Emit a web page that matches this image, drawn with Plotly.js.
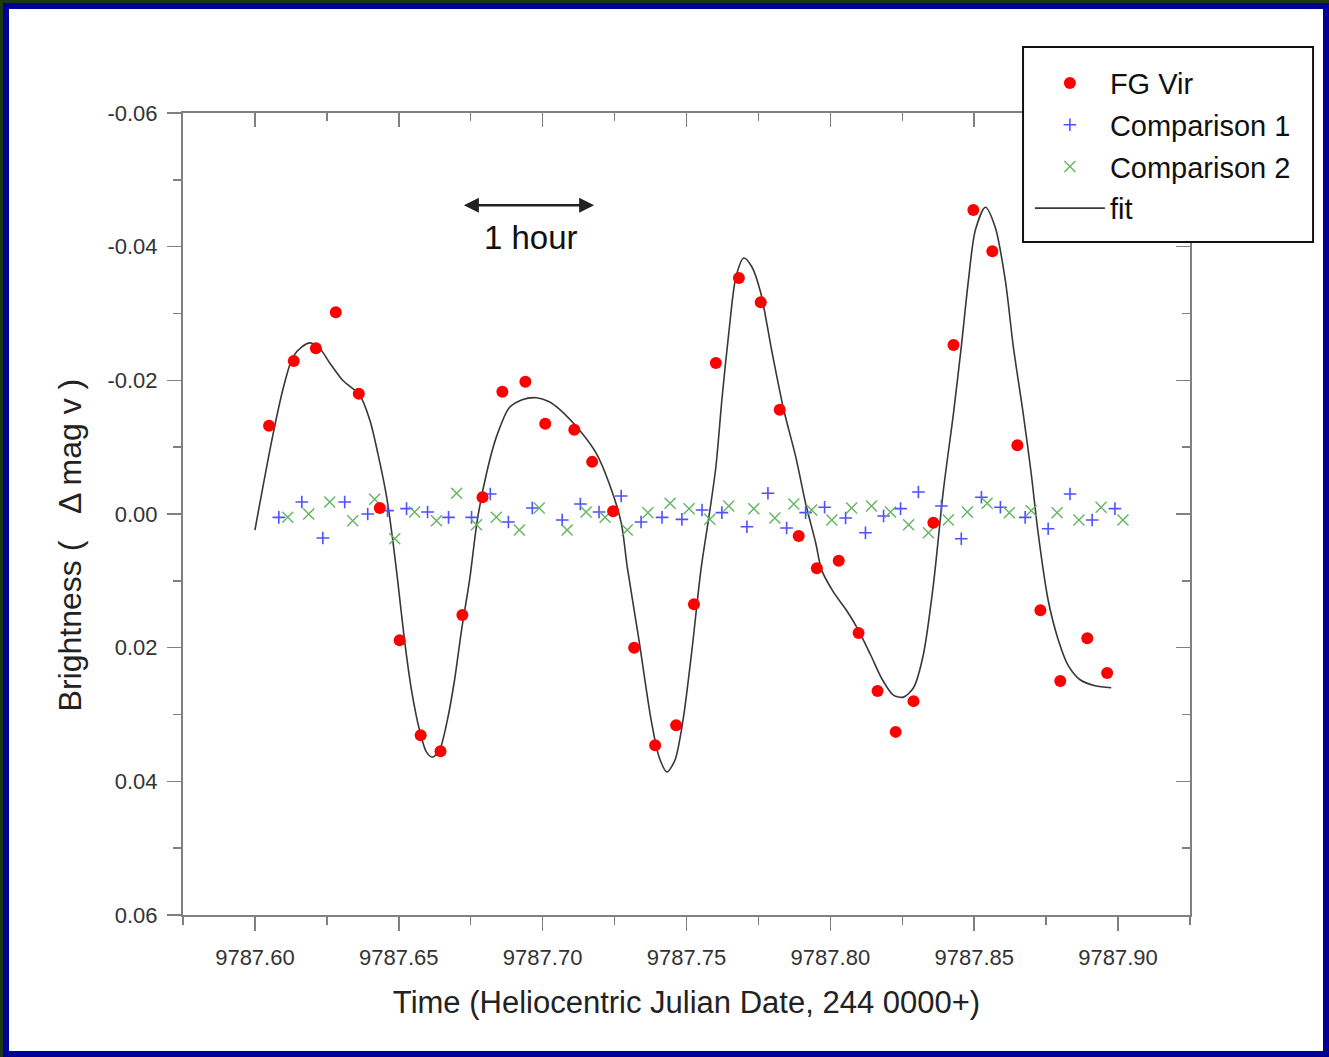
<!DOCTYPE html>
<html><head><meta charset="utf-8">
<script src="https://cdn.plot.ly/plotly-3.0.1.min.js"></script>
<style>
html,body{margin:0;padding:0;background:#1c3a12;width:1329px;height:1057px;overflow:hidden;}
#frame{position:absolute;left:3px;top:3px;width:1326px;height:1054px;box-sizing:border-box;border:6px solid #000099;background:#fff;}
#chart{position:absolute;left:0;top:0;width:1329px;height:1057px;}
</style></head><body><div id="frame"></div><div id="chart"></div>
<script>
// FG Vir observed brightness (delta mag v)
const fgVirTime = [9787.6049, 9787.6135, 9787.6212, 9787.6281, 9787.6361, 9787.6434, 9787.6503, 9787.6576, 9787.6645, 9787.6721, 9787.6791, 9787.6860, 9787.6940, 9787.7009, 9787.7110, 9787.7172, 9787.7245, 9787.7318, 9787.7391, 9787.7464, 9787.7526, 9787.7602, 9787.7682, 9787.7758, 9787.7824, 9787.7890, 9787.7953, 9787.8029, 9787.8098, 9787.8164, 9787.8227, 9787.8289, 9787.8358, 9787.8428, 9787.8497, 9787.8563, 9787.8650, 9787.8730, 9787.8799, 9787.8893, 9787.8962];
const fgVirMag = [-0.0132, -0.0229, -0.0248, -0.0302, -0.0180, -0.0009, 0.0189, 0.0331, 0.0355, 0.0151, -0.0025, -0.0183, -0.0198, -0.0135, -0.0126, -0.0078, -0.0004, 0.0200, 0.0346, 0.0316, 0.0135, -0.0226, -0.0353, -0.0317, -0.0156, 0.0033, 0.0081, 0.0070, 0.0178, 0.0265, 0.0326, 0.0280, 0.0013, -0.0253, -0.0455, -0.0393, -0.0103, 0.0144, 0.0250, 0.0186, 0.0238];

// Comparison 1
const comp1Time = [9787.6083, 9787.6163, 9787.6236, 9787.6312, 9787.6392, 9787.6461, 9787.6527, 9787.6600, 9787.6673, 9787.6753, 9787.6818, 9787.6881, 9787.6964, 9787.7068, 9787.7131, 9787.7196, 9787.7273, 9787.7342, 9787.7415, 9787.7484, 9787.7554, 9787.7623, 9787.7710, 9787.7783, 9787.7848, 9787.7914, 9787.7980, 9787.8053, 9787.8122, 9787.8185, 9787.8244, 9787.8306, 9787.8386, 9787.8455, 9787.8525, 9787.8591, 9787.8677, 9787.8757, 9787.8833, 9787.8910, 9787.8989];
const comp1Mag = [0.0005, -0.0018, 0.0036, -0.0018, 0.0000, -0.0005, -0.0008, -0.0003, 0.0005, 0.0005, -0.0030, 0.0012, -0.0009, 0.0009, -0.0015, -0.0003, -0.0027, 0.0012, 0.0005, 0.0008, -0.0006, -0.0002, 0.0019, -0.0031, 0.0021, -0.0002, -0.0010, 0.0006, 0.0028, 0.0003, -0.0008, -0.0033, -0.0012, 0.0037, -0.0025, -0.0010, 0.0005, 0.0022, -0.0030, 0.0009, -0.0008];

// Comparison 2
const comp2Time = [9787.6114, 9787.6187, 9787.6260, 9787.6340, 9787.6416, 9787.6486, 9787.6555, 9787.6631, 9787.6701, 9787.6770, 9787.6839, 9787.6919, 9787.6988, 9787.7085, 9787.7151, 9787.7217, 9787.7294, 9787.7366, 9787.7443, 9787.7509, 9787.7581, 9787.7647, 9787.7734, 9787.7807, 9787.7873, 9787.7935, 9787.8005, 9787.8074, 9787.8143, 9787.8209, 9787.8272, 9787.8341, 9787.8410, 9787.8476, 9787.8545, 9787.8622, 9787.8698, 9787.8788, 9787.8864, 9787.8941, 9787.9017];
const comp2Mag = [0.0005, 0.0000, -0.0018, 0.0010, -0.0022, 0.0037, -0.0003, 0.0010, -0.0031, 0.0016, 0.0005, 0.0024, -0.0009, 0.0024, -0.0003, 0.0005, 0.0024, -0.0002, -0.0016, -0.0008, 0.0008, -0.0012, -0.0008, 0.0006, -0.0015, -0.0006, 0.0009, -0.0009, -0.0012, -0.0003, 0.0016, 0.0028, 0.0009, -0.0003, -0.0016, -0.0002, -0.0005, -0.0002, 0.0009, -0.0010, 0.0009];

// Fit curve (traced)
const fitTime = [9787.6000, 9787.6059, 9787.6097, 9787.6132, 9787.6163, 9787.6191, 9787.6225, 9787.6260, 9787.6305, 9787.6364, 9787.6399, 9787.6427, 9787.6458, 9787.6479, 9787.6496, 9787.6520, 9787.6544, 9787.6572, 9787.6596, 9787.6617, 9787.6642, 9787.6669, 9787.6694, 9787.6718, 9787.6746, 9787.6773, 9787.6805, 9787.6839, 9787.6884, 9787.6929, 9787.6978, 9787.7023, 9787.7058, 9787.7127, 9787.7186, 9787.7231, 9787.7273, 9787.7294, 9787.7335, 9787.7377, 9787.7405, 9787.7432, 9787.7460, 9787.7488, 9787.7519, 9787.7550, 9787.7578, 9787.7602, 9787.7623, 9787.7647, 9787.7672, 9787.7699, 9787.7727, 9787.7758, 9787.7796, 9787.7838, 9787.7880, 9787.7914, 9787.7949, 9787.7970, 9787.8011, 9787.8056, 9787.8098, 9787.8140, 9787.8181, 9787.8219, 9787.8254, 9787.8289, 9787.8323, 9787.8358, 9787.8393, 9787.8428, 9787.8455, 9787.8480, 9787.8504, 9787.8539, 9787.8573, 9787.8608, 9787.8636, 9787.8670, 9787.8698, 9787.8722, 9787.8757, 9787.8792, 9787.8826, 9787.8868, 9787.8920, 9787.8976];
const fitMag = [0.0024, -0.0111, -0.0186, -0.0235, -0.0250, -0.0256, -0.0248, -0.0226, -0.0200, -0.0178, -0.0141, -0.0091, -0.0025, 0.0039, 0.0099, 0.0189, 0.0263, 0.0323, 0.0356, 0.0364, 0.0353, 0.0308, 0.0248, 0.0174, 0.0099, 0.0009, -0.0061, -0.0115, -0.0159, -0.0171, -0.0174, -0.0168, -0.0157, -0.0126, -0.0091, -0.0046, 0.0013, 0.0079, 0.0189, 0.0308, 0.0364, 0.0386, 0.0368, 0.0308, 0.0203, 0.0084, 0.0004, -0.0070, -0.0171, -0.0271, -0.0355, -0.0383, -0.0370, -0.0331, -0.0245, -0.0156, -0.0085, -0.0016, 0.0043, 0.0084, 0.0117, 0.0144, 0.0174, 0.0211, 0.0248, 0.0271, 0.0274, 0.0260, 0.0211, 0.0106, -0.0036, -0.0151, -0.0250, -0.0350, -0.0425, -0.0459, -0.0429, -0.0350, -0.0250, -0.0151, -0.0061, 0.0028, 0.0129, 0.0188, 0.0226, 0.0248, 0.0257, 0.0260];

// Tick labels
const xTickVals = [9787.60, 9787.65, 9787.70, 9787.75, 9787.80, 9787.85, 9787.90];
const xTickText = ["9787.60", "9787.65", "9787.70", "9787.75", "9787.80", "9787.85", "9787.90"];
const yTickVals = [-0.06, -0.04, -0.02, 0.00, 0.02, 0.04, 0.06];
const yTickText = ["-0.06", "-0.04", "-0.02", "0.00", "0.02", "0.04", "0.06"];

const seriesNames = ["FG Vir", "Comparison 1", "Comparison 2", "fit"];

const FONT = "Arial, 'Liberation Sans', sans-serif";
const AXC = "#808080";
const xr = [9787.575, 9787.925];
const yr = [0.06, -0.06];

const traces = [
  {x: fitTime, y: fitMag, name: seriesNames[3], mode: "lines", type: "scatter",
   line: {color: "#383838", width: 1.6, shape: "spline", smoothing: 0.8},
   legendrank: 4, legendgroup: "d"},
  {x: comp1Time, y: comp1Mag, name: seriesNames[1], mode: "markers", type: "scatter",
   marker: {symbol: "cross-thin", size: 9, line: {color: "#5050ff", width: 1.6}},
   legendrank: 2, legendgroup: "b"},
  {x: comp2Time, y: comp2Mag, name: seriesNames[2], mode: "markers", type: "scatter",
   marker: {symbol: "x-thin", size: 11, line: {color: "#62b462", width: 1.4}},
   legendrank: 3, legendgroup: "c"},
  {x: fgVirTime, y: fgVirMag, name: seriesNames[0], mode: "markers", type: "scatter",
   marker: {symbol: "circle", size: 12, color: "#ff0000"},
   legendrank: 1, legendgroup: "a"},
  {x: [], y: [], xaxis: "x2", yaxis: "y2", showlegend: false, hoverinfo: "skip", type: "scatter", mode: "markers"}
];

const axBase = {
  showgrid: false, zeroline: false, showline: true, linecolor: AXC, linewidth: 2,
  tickcolor: AXC, tickwidth: 1.5, ticklen: 14,
  tickfont: {family: FONT, size: 22, color: "#333"}
};

const layout = {
  width: 1329, height: 1057,
  margin: {l: 183, r: 139, t: 113, b: 142, pad: 0},
  paper_bgcolor: "rgba(0,0,0,0)", plot_bgcolor: "rgba(0,0,0,0)",
  font: {family: FONT, color: "#222"},
  showlegend: true,
  xaxis: Object.assign({}, axBase, {
    range: xr, tickmode: "array", tickvals: xTickVals, ticktext: xTickText,
    ticks: "outside", ticklabelstandoff: 8,
    minor: {tickmode: "linear", tick0: 9787.60, dtick: 0.025, ticks: "outside", ticklen: 8, tickcolor: AXC, tickwidth: 1.5},
    title: {text: "Time (Heliocentric Julian Date, 244 0000+)", font: {family: FONT, size: 31, color: "#222"}, standoff: 22}
  }),
  yaxis: Object.assign({}, axBase, {
    range: yr, tickmode: "array", tickvals: yTickVals, ticktext: yTickText,
    ticks: "outside", ticklabelstandoff: 5,
    minor: {tickmode: "linear", tick0: 0, dtick: 0.01, ticks: "outside", ticklen: 8, tickcolor: AXC, tickwidth: 1.5},
    title: {text: "Brightness (\u00a0\u00a0\u00a0\u0394 mag v )" + "\u00a0".repeat(7) + "\u200b", font: {family: FONT, size: 32, color: "#222"}, standoff: 16}
  }),
  xaxis2: Object.assign({}, axBase, {
    overlaying: "x", side: "top", anchor: "y2", range: xr, tickmode: "array", tickvals: xTickVals,
    ticks: "inside", showticklabels: false,
    minor: {tickmode: "linear", tick0: 9787.60, dtick: 0.025, ticks: "inside", ticklen: 8, tickcolor: AXC, tickwidth: 1.5}
  }),
  yaxis2: Object.assign({}, axBase, {
    overlaying: "y", side: "right", anchor: "x2", range: yr, tickmode: "array", tickvals: yTickVals,
    ticks: "inside", showticklabels: false,
    minor: {tickmode: "linear", tick0: 0, dtick: 0.01, ticks: "inside", ticklen: 8, tickcolor: AXC, tickwidth: 1.5}
  }),
  legend: {
    x: 0.841, y: 1.069, xanchor: "left", yanchor: "top",
    bgcolor: "rgba(0,0,0,0)", borderwidth: 0,
    font: {family: FONT, size: 29, color: "#111"},
    itemwidth: 70, traceorder: "grouped", tracegroupgap: 1
  },
  shapes: [
    {type: "rect", xref: "paper", yref: "paper", x0: 0.8342, x1: 1.1222, y0: 0.8392, y1: 1.0823,
     line: {color: "#111", width: 2}, fillcolor: "#fff", layer: "above"}
  ],
  annotations: [
    {x: 9787.7179, y: -0.0462, ax: 9787.6721, ay: -0.0462, xref: "x", yref: "y", axref: "x", ayref: "y",
     text: "", showarrow: true, arrowhead: 2, startarrowhead: 2, arrowside: "end+start", arrowsize: 1.2, arrowwidth: 2.5, arrowcolor: "#222"},
    {x: 9787.6958, y: -0.0413, xref: "x", yref: "y", text: "1 hour", showarrow: false,
     font: {family: FONT, size: 33, color: "#111"}}
  ]
};

Plotly.newPlot("chart", traces, layout, {displayModeBar: false, staticPlot: true});
</script></body></html>
